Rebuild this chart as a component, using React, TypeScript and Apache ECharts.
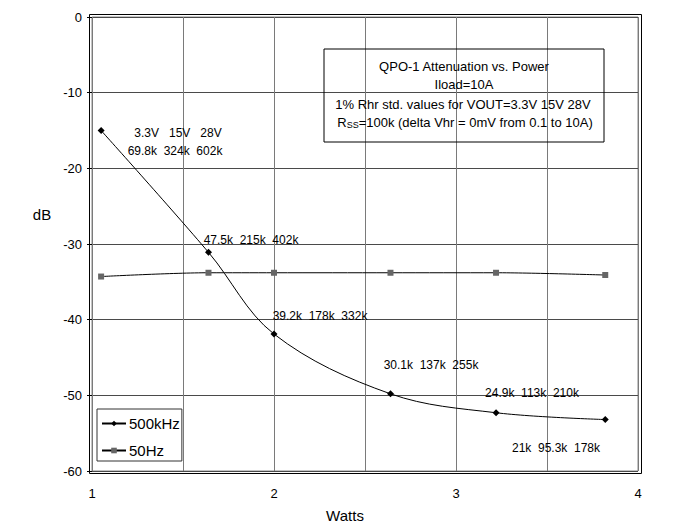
import React, { useEffect, useRef } from "react";
import * as echarts from "echarts";

const watts = [1.05, 1.64, 2.0, 2.64, 3.22, 3.82];
const khz500 = [-15.0, -31.1, -41.9, -49.8, -52.3, -53.2];
const hz50 = [-34.3, -33.8, -33.8, -33.8, -33.8, -34.1];
const seriesNames = ["500kHz", "50Hz"];
const xTicks = [1, 2, 3, 4];
const titleLines = [
  "QPO-1 Attenuation vs. Power",
  "Iload=10A",
  "1% Rhr std. values for VOUT=3.3V 15V 28V",
];
const annotations = [
  "3.3V   15V   28V",
  "69.8k  324k  602k",
  "47.5k  215k  402k",
  "39.2k  178k  332k",
  "30.1k  137k  255k",
  "24.9k  113k  210k",
  "21k  95.3k  178k",
];
const annotationPos: [number, number][] = [
  [178, 133],
  [175, 151],
  [251, 240],
  [320, 316],
  [431, 365],
  [532, 393],
  [556, 448],
];

const FONT = "'Liberation Sans', Arial, sans-serif";

export default function App() {
  const ref = useRef<HTMLDivElement>(null);
  useEffect(() => {
    if (!ref.current) return;
    const chart = echarts.init(ref.current, null, { renderer: "svg" });
    const graphic: any[] = [
      {
        type: "rect",
        shape: { x: 89.5, y: 14.5, width: 552, height: 459 },
        style: { fill: "none", stroke: "#000", lineWidth: 1 },
        silent: true,
      },
      {
        type: "rect",
        shape: { x: 324, y: 49, width: 280, height: 93 },
        style: { fill: "none", stroke: "#000", lineWidth: 1 },
        silent: true,
        z: 10,
      },
      {
        type: "text",
        x: 464,
        y: 66,
        style: { text: titleLines[0], font: `13px ${FONT}`, fill: "#000", align: "center", verticalAlign: "middle" },
        z: 10,
      },
      {
        type: "text",
        x: 464,
        y: 84,
        style: { text: titleLines[1], font: `13px ${FONT}`, fill: "#000", align: "center", verticalAlign: "middle" },
        z: 10,
      },
      {
        type: "text",
        x: 463,
        y: 104,
        style: { text: titleLines[2], font: `13px ${FONT}`, fill: "#000", align: "center", verticalAlign: "middle" },
        z: 10,
      },
      {
        type: "text",
        x: 465,
        y: 122,
        style: {
          text: "{a|R}{s|SS}{a|=100k (delta Vhr = 0mV from 0.1 to 10A)}",
          align: "center",
          verticalAlign: "middle",
          rich: {
            a: { fontSize: 13, fontFamily: FONT, color: "#000" },
            s: { fontSize: 9, fontFamily: FONT, color: "#000", padding: [6, 0, 0, 0] },
          },
        },
        z: 10,
      },
      {
        type: "text",
        x: 42,
        y: 214,
        style: { text: "dB", font: `15px ${FONT}`, fill: "#000", align: "center", verticalAlign: "middle" },
      },
      {
        type: "text",
        x: 345,
        y: 515,
        style: { text: "Watts", font: `15px ${FONT}`, fill: "#000", align: "center", verticalAlign: "middle" },
      },
      ...annotations.map((t, i) => ({
        type: "text",
        x: annotationPos[i][0],
        y: annotationPos[i][1],
        style: { text: t, font: `12px ${FONT}`, fill: "#000", align: "center", verticalAlign: "middle" },
        z: 10,
      })),
    ];

    chart.setOption({
      animation: false,
      backgroundColor: "#fff",
      textStyle: { fontFamily: FONT },
      grid: {
        left: 92,
        right: 49,
        top: 17,
        bottom: 58,
        show: true,
        borderColor: "#888",
        borderWidth: 1,
      },
      legend: {
        orient: "vertical",
        left: 97,
        top: 409,
        data: seriesNames,
        borderColor: "#333",
        borderWidth: 1,
        backgroundColor: "#fff",
        padding: [7, 2, 3, 4],
        itemWidth: 24,
        itemHeight: 7,
        itemGap: 12,
        textStyle: { fontSize: 15, color: "#000", fontFamily: FONT, padding: [0, 0, 0, -2] },
      },
      xAxis: {
        type: "value",
        min: 1,
        max: 4,
        interval: 0.5,
        axisLine: { show: false },
        axisTick: { show: false },
        axisLabel: {
          fontSize: 13,
          color: "#000",
          margin: 16,
          formatter: (v: number) => (xTicks.includes(v) ? String(v) : ""),
        },
        splitLine: { show: true, lineStyle: { color: "#7a7a7a", width: 1 } },
      },
      yAxis: {
        type: "value",
        min: -60,
        max: 0,
        interval: 10,
        axisLine: { show: false },
        axisTick: { show: true, inside: false, length: 5, lineStyle: { color: "#000" } },
        axisLabel: { fontSize: 13, color: "#000", margin: 10 },
        splitLine: { show: true, lineStyle: { color: "#4a4a4a", width: 1 } },
      },
      series: [
        {
          name: seriesNames[0],
          type: "line",
          data: watts.map((w, i) => [w, khz500[i]]),
          smooth: 0.35,
          symbol: "diamond",
          symbolSize: 7,
          lineStyle: { color: "#000", width: 1 },
          itemStyle: { color: "#000" },
          z: 5,
        },
        {
          name: seriesNames[1],
          type: "line",
          data: watts.map((w, i) => [w, hz50[i]]),
          smooth: 0.3,
          symbol: "rect",
          symbolSize: 6,
          lineStyle: { color: "#000", width: 1 },
          itemStyle: { color: "#666" },
          z: 4,
        },
      ],
      graphic,
    });
    return () => chart.dispose();
  }, []);
  return (
    <div style={{ position: "relative", width: 687, height: 529, margin: -8, overflow: "hidden" }}>
      <div ref={ref} style={{ position: "absolute", left: 0, top: 0, width: 687, height: 529 }} />
      <div
        style={{
          position: "absolute",
          left: 4,
          top: 4,
          width: 720,
          height: 560,
          border: "1px solid #000",
          pointerEvents: "none",
          boxSizing: "border-box",
        }}
      />
    </div>
  );
}
